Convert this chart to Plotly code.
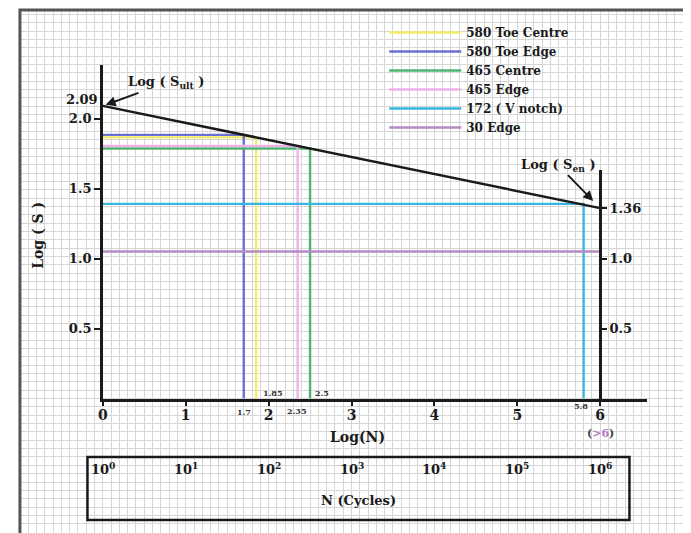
import plotly.graph_objects as go

# ---------------- data ----------------
cases = ["580 Toe Centre", "580 Toe Edge", "465 Centre", "465 Edge", "172 ( V notch)", "30 Edge"]
log_n = [1.85, 1.7, 2.5, 2.35, 5.8, None]          # None -> run-out (>6)
log_s = [1.865, 1.883, 1.786, 1.804, 1.39, 1.05]
colors = ["#f2ee6a", "#6b70d2", "#4cb470", "#efb2e8", "#38b6e2", "#b48ac4"]

sn_log_n = [0, 6]
sn_log_s = [2.09, 1.36]

x_ticks = [0, 1, 2, 3, 4, 5, 6]
y_left_ticks = [0.5, 1.0, 1.5, 2.0]
y_left_text = ["0.5", "1.0", "1.5", "2.0"]
y_right_ticks = [0.5, 1.0, 1.36]
y_right_text = ["0.5", "1.0", "1.36"]
cycle_exponents = [0, 1, 2, 3, 4, 5, 6]

# ---------------- geometry (screen pixels) ----------------
SCREEN_W, SCREEN_H = 691, 533
OFF = 8                                   # page body margin
W, H = SCREEN_W - OFF, SCREEN_H - OFF
def px(p): return (p - OFF) / W
def py(q): return 1 - (q - OFF) / H

X0_PX, X_UNIT = 98.5, 83.5      # x=0 screen pixel, px per log unit
Y0_PX, Y_UNIT = 398.5, 140.0    # y=0 screen pixel, px per log unit

SERIF = "DejaVu Serif"
def f(size, color="#1a1a1a"):
    return dict(family=SERIF, size=size, color=color, weight="bold")

fig = go.Figure()

# background graph-paper subplot (x / y)
fig.add_trace(go.Scatter(x=[None], y=[None], xaxis="x", yaxis="y",
                         showlegend=False, hoverinfo="skip"))
# right axis subplot (x3 / y3)
fig.add_trace(go.Scatter(x=[None], y=[None], xaxis="x3", yaxis="y3",
                         showlegend=False, hoverinfo="skip"))

# case lines
runout = sn_log_n[-1]
for name, n, s, c in zip(cases, log_n, log_s, colors):
    if n is None:
        xs, ys = [0, runout], [s, s]
    else:
        xs, ys = [0, n, n], [s, s, 0]
    fig.add_trace(go.Scatter(x=xs, y=ys, mode="lines", name=name,
                             line=dict(color=c, width=2.4),
                             xaxis="x2", yaxis="y2"))

# S-N line
fig.add_trace(go.Scatter(x=sn_log_n, y=sn_log_s, mode="lines", showlegend=False,
                         line=dict(color="#1a1a1a", width=2.5),
                         xaxis="x2", yaxis="y2"))

x_dom = [px(X0_PX), px(647)]
x_rng = [0, (647 - X0_PX) / X_UNIT]

annotations = []
# small value labels on the x axis
label_offsets = {1.7: (0, -13), 1.85: (16, 6), 2.35: (-1, -12), 2.5: (12, 6), 5.8: (-3, -7)}
for n in log_n:
    if n is None:
        continue
    dx, dy = label_offsets.get(n, (0, -10))
    annotations.append(dict(x=n, y=0, xref="x2", yref="y2", text=f"{n:g}",
                            showarrow=False, xshift=dx, yshift=dy,
                            xanchor="center", yanchor="middle",
                            font=f(8, "#333")))
# 2.09 label on left axis
annotations.append(dict(x=0, y=sn_log_s[0], xref="x2", yref="y2", text=f"{sn_log_s[0]:g}",
                        showarrow=False, xanchor="right", yanchor="middle",
                        xshift=-3, yshift=6, font=f(13)))
# (>6)
annotations.append(dict(x=runout, y=py(433), xref="x2", yref="paper",
                        text="(<span style='color:#b57cc8'>&gt;6</span>)",
                        xanchor="center", yanchor="middle",
                        showarrow=False, font=f(11, "#444")))
# axis titles
annotations.append(dict(x=px(355), y=py(437), xref="paper", yref="paper", text="Log(N)",
                        xanchor="center", yanchor="middle",
                        showarrow=False, font=f(14)))
annotations.append(dict(x=px(33), y=py(235), xref="paper", yref="paper", text="Log ( S )",
                        xanchor="center", yanchor="middle",
                        textangle=-90, showarrow=False, font=f(14)))
# S_ult / S_en callouts
annotations.append(dict(x=sn_log_n[0], y=sn_log_s[0], xref="x2", yref="y2",
                        text="Log ( S<sub>ult</sub> )", showarrow=True,
                        ax=63, ay=-23, arrowhead=2, arrowsize=1, arrowwidth=2,
                        arrowcolor="#1a1a1a", standoff=3, font=f(13)))
annotations.append(dict(x=sn_log_n[-1], y=sn_log_s[-1], xref="x2", yref="y2",
                        text="Log ( S<sub>en</sub> )", showarrow=True,
                        ax=-42, ay=-43, arrowhead=2, arrowsize=1, arrowwidth=2,
                        arrowcolor="#1a1a1a", standoff=10, font=f(13)))
# N (cycles) box labels
for k in cycle_exponents:
    annotations.append(dict(x=k, y=py(469), xref="x2", yref="paper",
                            text=f"10<sup>{k}</sup>", showarrow=False,
                            xanchor="center", yanchor="middle", font=f(13)))
annotations.append(dict(x=px(356), y=py(500), xref="paper", yref="paper",
                        text="N (Cycles)", showarrow=False,
                        xanchor="center", yanchor="middle", font=f(13)))

shapes = [
    # outer frame
    dict(type="rect", xref="paper", yref="paper", x0=px(15), x1=px(685),
         y0=py(545), y1=py(10), line=dict(color="#555", width=3)),
    # N cycles box
    dict(type="rect", xref="paper", yref="paper", x0=px(83), x1=px(629),
         y0=py(520), y1=py(457), line=dict(color="#1a1a1a", width=2.5)),
]

fig.update_layout(
    width=W, height=H,
    margin=dict(l=0, r=0, t=0, b=0),
    paper_bgcolor="white",
    plot_bgcolor="rgba(0,0,0,0)",
    showlegend=True,
    legend=dict(x=px(382), y=py(18), xanchor="left", yanchor="top",
                bgcolor="rgba(0,0,0,0)", font=f(12), itemwidth=72,
                tracegroupgap=0),
    # graph paper grid
    xaxis=dict(domain=[px(15), px(685)], range=[15, 685], showgrid=True,
               gridcolor="#d6d6d6", gridwidth=1, tick0=X0_PX, dtick=X_UNIT / 10,
               showticklabels=False, ticks="", zeroline=False, showline=False,
               fixedrange=True),
    yaxis=dict(domain=[0, py(10)], range=[SCREEN_H, 10], showgrid=True,
               gridcolor="#d6d6d6", gridwidth=1, tick0=Y0_PX, dtick=X_UNIT / 10,
               showticklabels=False, ticks="", zeroline=False, showline=False,
               fixedrange=True),
    # main axes
    xaxis2=dict(domain=x_dom, range=x_rng, anchor="y2", showgrid=False, zeroline=False,
                showline=True, linecolor="#1a1a1a", linewidth=2.5,
                ticks="outside", ticklen=5, tickwidth=2, tickcolor="#1a1a1a",
                tickvals=x_ticks, ticktext=[str(v) for v in x_ticks],
                ticklabelstandoff=-3, tickfont=f(14)),
    yaxis2=dict(domain=[py(Y0_PX), py(65)], range=[0, (Y0_PX - 65) / Y_UNIT], anchor="x2",
                showgrid=False, zeroline=False,
                showline=True, linecolor="#1a1a1a", linewidth=2.5,
                ticks="outside", ticklen=6, tickwidth=2, tickcolor="#1a1a1a",
                tickvals=y_left_ticks, ticktext=y_left_text, tickfont=f(13)),
    # right axis at log N = 6
    xaxis3=dict(domain=x_dom, range=x_rng, anchor="y3", visible=False),
    yaxis3=dict(domain=[py(Y0_PX), py(170)], range=[0, (Y0_PX - 170) / Y_UNIT],
                anchor="free", position=px(X0_PX + sn_log_n[-1] * X_UNIT), side="right",
                showgrid=False, zeroline=False,
                showline=True, linecolor="#1a1a1a", linewidth=2.5,
                ticks="outside", ticklen=5, tickwidth=2, tickcolor="#1a1a1a",
                tickvals=y_right_ticks, ticktext=y_right_text, tickfont=f(13)),
    annotations=annotations,
    shapes=shapes,
)

fig.write_html("out.html")
